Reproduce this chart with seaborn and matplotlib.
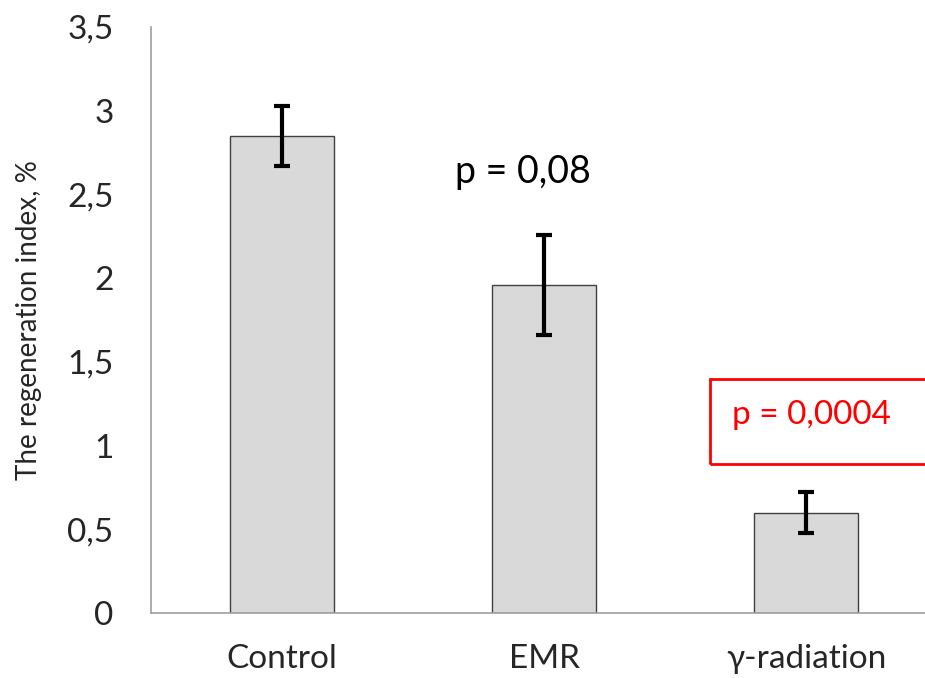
import matplotlib
matplotlib.use("Agg")
import matplotlib.pyplot as plt
import seaborn as sns
import pandas as pd
from matplotlib.patches import Rectangle

# data
groups = ["Control", "EMR", "γ-radiation"]
means = [2.85, 1.96, 0.60]
errors = [0.18, 0.30, 0.12]
yticks = [0, 0.5, 1, 1.5, 2, 2.5, 3, 3.5]
ytick_labels = ["0", "0,5", "1", "1,5", "2", "2,5", "3", "3,5"]

df = pd.DataFrame({"group": groups, "value": means})

sns.set_style("white")
plt.rcParams["font.family"] = ["Lato", "DejaVu Sans"]

fig = plt.figure(figsize=(9.25, 6.78), dpi=100)
ax = fig.add_axes([151/925, 1 - 613/678, 1 - 151/925, (613 - 27)/678])

sns.barplot(data=df, x="group", y="value", ax=ax, color="#d9d9d9",
            width=0.4, edgecolor="#404040", linewidth=1.0, saturation=1)
ax.errorbar(range(len(groups)), means, yerr=errors, fmt="none",
            ecolor="black", elinewidth=3, capsize=6, capthick=3)

ax.set_ylim(0, 3.5)
ax.set_xlim(-0.5, 2.454)
ax.set_yticks(yticks)
ax.set_yticklabels(ytick_labels, fontsize=24)
ax.tick_params(axis="y", direction="in", length=9, color="#a0a0a0", width=1, pad=27)
ax.tick_params(axis="x", length=0, labelsize=24, pad=22)

for side in ["top", "right"]:
    ax.spines[side].set_visible(False)
for side in ["left", "bottom"]:
    ax.spines[side].set_color("#a0a0a0")
    ax.spines[side].set_linewidth(1.2)

ax.set_xlabel("")
ax.set_ylabel("The regeneration index, %", fontsize=20, labelpad=18)

# annotations
ax.text(0.66, 2.634, "p = 0,08", fontsize=27, va="center", ha="left", color="black")
ax.add_patch(Rectangle((1.634, 0.89), 1.5, 0.508, fill=False, edgecolor="red",
                       linewidth=2, clip_on=False))
ax.text(1.718, 1.183, "p = 0,0004", fontsize=24, va="center", ha="left", color="red")

fig.savefig("out.png", dpi=100)
